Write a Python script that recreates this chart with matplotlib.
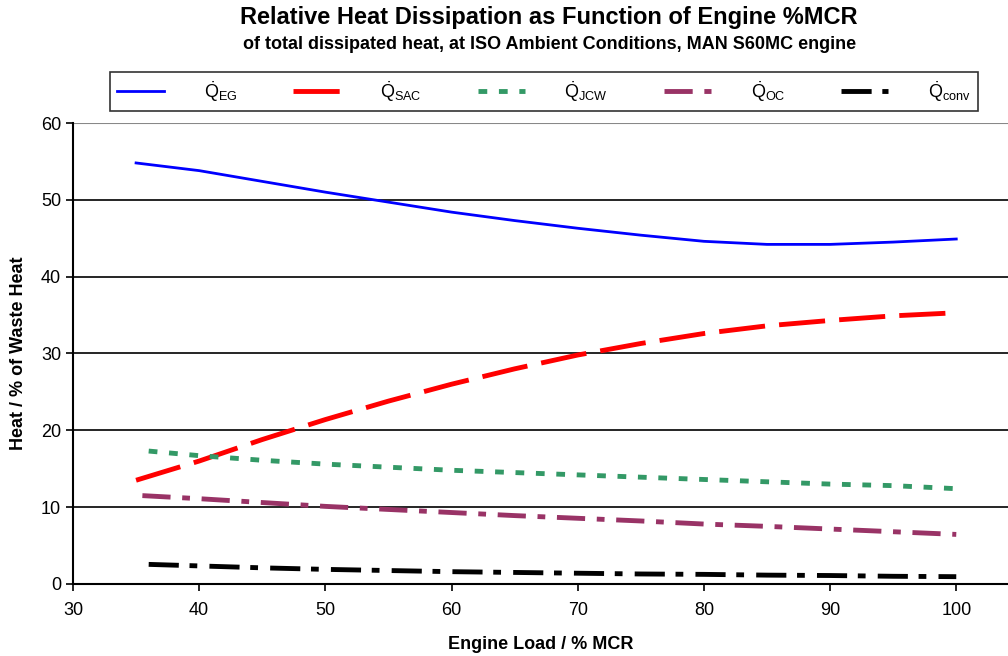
import matplotlib
matplotlib.use("Agg")
import matplotlib.pyplot as plt

plt.rcParams['font.family'] = ['Liberation Sans', 'DejaVu Sans']
plt.rcParams['mathtext.fontset'] = 'custom'
plt.rcParams['mathtext.rm'] = 'Liberation Sans'
plt.rcParams['mathtext.it'] = 'Liberation Sans'

# values (engine load in % MCR, heat in % of waste heat)
load_eg = [35, 40, 45, 50, 55, 60, 65, 70, 75, 80, 85, 90, 95, 100]
q_eg = [54.8, 53.8, 52.4, 51.0, 49.7, 48.4, 47.3, 46.3, 45.4, 44.6, 44.2, 44.2, 44.5, 44.9]

load_sac = [35, 40, 45, 50, 55, 60, 65, 70, 75, 80, 85, 90, 95, 100]
q_sac = [13.5, 16.0, 18.8, 21.4, 23.8, 26.0, 28.0, 29.8, 31.3, 32.6, 33.6, 34.3, 34.9, 35.3]

load_jcw = [36, 40, 45, 50, 55, 60, 65, 70, 75, 80, 85, 90, 95, 100]
q_jcw = [17.3, 16.7, 16.1, 15.6, 15.2, 14.8, 14.5, 14.2, 13.9, 13.6, 13.3, 13.0, 12.8, 12.4]

load_oc = [35.5, 40, 45, 50, 55, 60, 65, 70, 75, 80, 85, 90, 95, 100]
q_oc = [11.5, 11.1, 10.6, 10.1, 9.7, 9.3, 8.9, 8.55, 8.2, 7.8, 7.5, 7.15, 6.8, 6.45]

load_conv = [36, 40, 45, 50, 55, 60, 65, 70, 75, 80, 85, 90, 95, 100]
q_conv = [2.55, 2.35, 2.1, 1.9, 1.75, 1.6, 1.5, 1.4, 1.3, 1.25, 1.15, 1.1, 1.0, 0.95]

labels = [r'$\dot{\mathrm{Q}}_{\mathrm{EG}}$', r'$\dot{\mathrm{Q}}_{\mathrm{SAC}}$',
          r'$\dot{\mathrm{Q}}_{\mathrm{JCW}}$', r'$\dot{\mathrm{Q}}_{\mathrm{OC}}$',
          r'$\dot{\mathrm{Q}}_{\mathrm{conv}}$']
x_ticks = [30, 40, 50, 60, 70, 80, 90, 100]
y_ticks = [0, 10, 20, 30, 40, 50, 60]

fig = plt.figure(figsize=(10.08, 6.56), dpi=100)
ax = fig.add_axes([0.0724, 0.1098, 0.9276, 0.7027])

ax.plot(load_eg, q_eg, color='#0000ff', lw=2, label=labels[0])
ax.plot(load_sac, q_sac, color='#ff0000', lw=3.5, dashes=(9.5, 2.9), label=labels[1])
ax.plot(load_jcw, q_jcw, color='#339966', lw=3.5, dashes=(1.8, 2.4), label=labels[2])
ax.plot(load_oc, q_oc, color='#993366', lw=3.5, dashes=(5.8, 2.4, 1.6, 2.4), label=labels[3])
ax.plot(load_conv, q_conv, color='#000000', lw=3.5, dashes=(6.2, 2.2, 1.6, 2.5), label=labels[4])

ax.set_xlim(30, 104.1)
ax.set_ylim(0, 60)
ax.set_xticks(x_ticks)
ax.set_yticks(y_ticks)
ax.tick_params(direction='out', length=5, width=1.2, labelsize=13, colors='black')
ax.tick_params(axis='x', pad=8)
for yv in y_ticks[1:-1]:
    ax.axhline(yv, color='black', lw=1.2, zorder=0)
ax.axhline(60, color='#888888', lw=1.5, zorder=0)

ax.spines['right'].set_visible(False)
ax.spines['top'].set_visible(False)
ax.spines['left'].set_linewidth(1.5)
ax.spines['bottom'].set_linewidth(1.5)

ax.set_xlabel('Engine Load / % MCR', fontsize=13, fontweight='bold', labelpad=12)
ax.set_ylabel('Heat / % of Waste Heat', fontsize=13, fontweight='bold', labelpad=10)

fig.text(0.544, 0.973, 'Relative Heat Dissipation as Function of Engine %MCR',
         ha='center', va='center', fontsize=17, fontweight='bold')
fig.text(0.545, 0.932, 'of total dissipated heat, at ISO Ambient Conditions, MAN S60MC engine',
         ha='center', va='center', fontsize=13, fontweight='bold')

leg = fig.legend(loc='lower left', ncol=5, mode='expand',
                 bbox_to_anchor=(110 / 1008, 1 - 111 / 656, 868 / 1008, 42 / 656),
                 frameon=True, fancybox=False, fontsize=13, handlelength=2.6,
                 borderaxespad=0, handletextpad=2.2)
leg.get_frame().set_edgecolor('black')
leg.get_frame().set_linewidth(1.2)

fig.savefig('out.png', dpi=100)
